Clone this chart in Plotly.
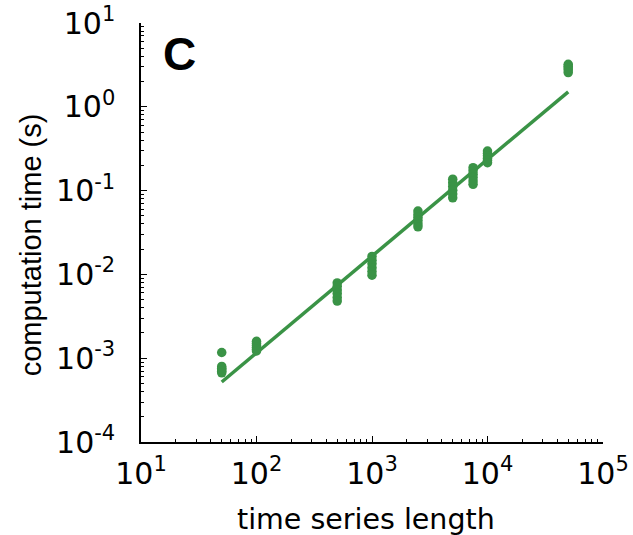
import plotly.graph_objects as go

# ---- data ----
lengths = [50, 100, 500, 1000, 2500, 5000, 7500, 10000, 50000]
times_50 = [1.17e-3, 7.98e-4, 7.6e-4, 7.3e-4, 7.0e-4, 6.7e-4]
times_100 = [1.59e-3, 1.5e-3, 1.42e-3, 1.35e-3, 1.28e-3, 1.22e-3]
times_500 = [7.9e-3, 7.2e-3, 6.5e-3, 5.9e-3, 5.3e-3, 4.8e-3]
times_1000 = [1.64e-2, 1.48e-2, 1.34e-2, 1.2e-2, 1.08e-2, 9.8e-3]
times_2500 = [5.7e-2, 5.2e-2, 4.8e-2, 4.4e-2, 4.0e-2, 3.7e-2]
times_5000 = [0.137, 0.124, 0.112, 0.101, 0.091, 0.082]
times_7500 = [0.188, 0.172, 0.157, 0.143, 0.13, 0.119]
times_10000 = [0.296, 0.278, 0.26, 0.244, 0.229, 0.215]
times_50000 = [3.21, 3.05, 2.9, 2.75, 2.56]

fit_x = [50, 50000]
fit_y = [5.2e-4, 1.51]

x_tickvals = [10, 100, 1000, 10000, 100000]
x_ticktext = ["10<sup>1</sup>", "10<sup>2</sup>", "10<sup>3</sup>", "10<sup>4</sup>", "10<sup>5</sup>"]
y_tickvals = [1e-4, 1e-3, 1e-2, 1e-1, 1, 10]
y_ticktext = ["10<sup>-4</sup>", "10<sup>-3</sup>", "10<sup>-2</sup>", "10<sup>-1</sup>", "10<sup>0</sup>", "10<sup>1</sup>"]

all_times = [times_50, times_100, times_500, times_1000, times_2500,
             times_5000, times_7500, times_10000, times_50000]
px, py = [], []
for n, ts in zip(lengths, all_times):
    for t in ts:
        px.append(n)
        py.append(t)

# minor tick positions (2..9 within each decade)
def minor_vals(decades):
    return [m * d for d in decades[:-1] for m in range(2, 10)]

x_minor = minor_vals(x_tickvals)
y_minor = minor_vals(y_tickvals)

GREEN = "#3a9346"
FONT = "Liberation Sans"
WIDE = "DejaVu Sans"

fig = go.Figure()
fig.add_trace(go.Scatter(x=fit_x, y=fit_y, mode="lines",
                         line=dict(color=GREEN, width=3.5), hoverinfo="skip"))
fig.add_trace(go.Scatter(x=px, y=py, mode="markers",
                         marker=dict(color=GREEN, size=9.5, line=dict(width=0))))

axis_common = dict(
    type="log", showgrid=False, zeroline=False, showline=True, automargin=False,
    linecolor="black", linewidth=1.5, ticks="inside", ticklen=6,
    tickwidth=1, tickcolor="black", mirror=False,
    tickfont=dict(family=WIDE, size=30, color="black"),
)

fig.update_xaxes(range=[1, 5], tickmode="array", tickvals=x_tickvals,
                 ticktext=x_ticktext, ticklabelstandoff=4,
                 minor=dict(tickmode="array", tickvals=x_minor, ticks="inside",
                            ticklen=3, tickwidth=1, tickcolor="black", showgrid=False),
                 **axis_common)
fig.update_yaxes(range=[-4, 1], tickmode="array", tickvals=y_tickvals,
                 ticktext=y_ticktext, ticklabelstandoff=18,
                 minor=dict(tickmode="array", tickvals=y_minor, ticks="inside",
                            ticklen=3, tickwidth=1, tickcolor="black", showgrid=False),
                 **axis_common)

fig.add_annotation(text="<b>C</b>", xref="paper", yref="paper", x=0.083, y=0.925,
                   xanchor="center", yanchor="middle", showarrow=False,
                   font=dict(family=FONT, size=46, color="black"))
fig.add_annotation(text="computation time (s)", xref="paper", yref="paper",
                   x=-0.238, y=0.4695, textangle=-90, xanchor="center", yanchor="middle",
                   showarrow=False, font=dict(family=FONT, size=29, color="black"))
fig.add_annotation(text="time series length", xref="paper", yref="paper",
                   x=0.488, y=-0.184, xanchor="center", yanchor="middle",
                   showarrow=False, font=dict(family=WIDE, size=28.5, color="black"))

fig.update_layout(
    width=633, height=535, showlegend=False,
    margin=dict(l=141, r=30, t=23, b=93),
    paper_bgcolor="white", plot_bgcolor="white",
)

fig.write_html("out.html")
